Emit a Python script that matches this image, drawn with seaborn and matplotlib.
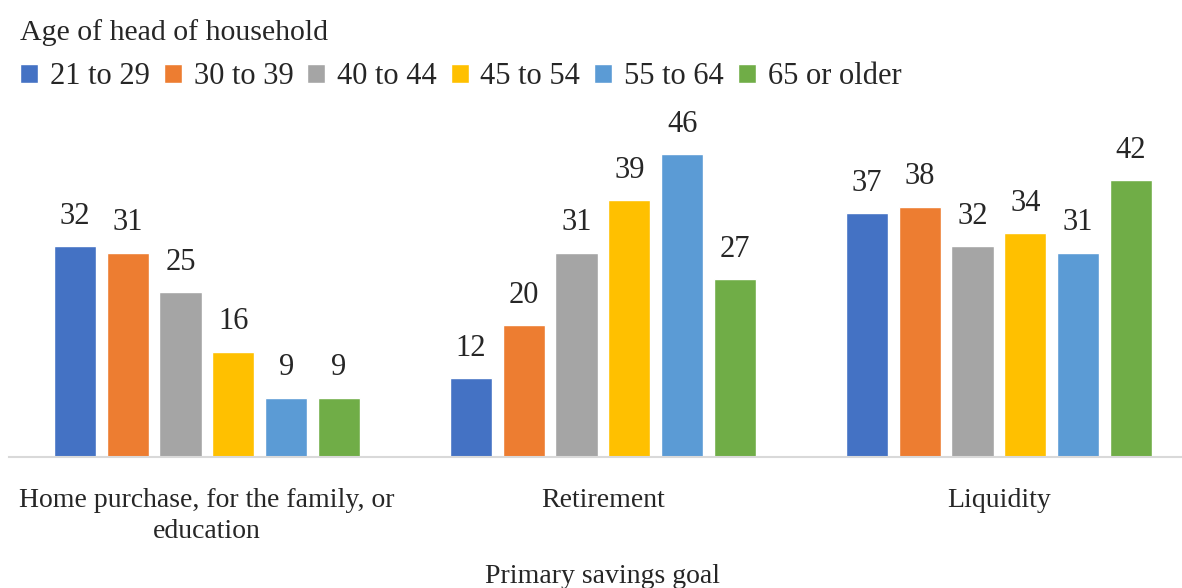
import pandas as pd
import numpy as np
import matplotlib.pyplot as plt
import seaborn as sns

goals = ['Home purchase, for the family, or\neducation', 'Retirement', 'Liquidity']
ages = ['21 to 29', '30 to 39', '40 to 44', '45 to 54', '55 to 64', '65 or older']
home = [32, 31, 25, 16, 9, 9]
retirement = [12, 20, 31, 39, 46, 27]
liquidity = [37, 38, 32, 34, 31, 42]
colors = ['#4472C4', '#ED7D31', '#A5A5A5', '#FFC000', '#5B9BD5', '#70AD47']

df = pd.DataFrame({
	'goal': np.repeat(goals, len(ages)),
	'age': ages * len(goals),
	'value': home + retirement + liquidity,
})

sns.set_style('white')
plt.rcParams['font.family'] = ['Liberation Serif', 'DejaVu Serif']

fig = plt.figure(figsize=(11.82, 5.88), dpi=100)
ax = fig.add_axes([0.0076, 0.2228, 1.005, 0.5379])
sns.barplot(data=df, x='goal', y='value', hue='age', hue_order=ages,
	palette=colors, width=0.8, gap=0.2, ax=ax, saturation=1)

for c in ax.containers:
	ax.bar_label(c, padding=11, fontsize=22)

ax.set_ylim(0, 48)
ax.set_xlim(-0.5, 2.5)
ax.set_yticks([])
ax.set_ylabel('')
ax.set_xlabel('Primary savings goal', fontsize=20, labelpad=14)
ax.tick_params(axis='x', length=0, labelsize=20, pad=22)
for t in ax.get_xticklabels():
	t.set_linespacing(1.35)
for s in ['top', 'right', 'left']:
	ax.spines[s].set_visible(False)
ax.spines['bottom'].set_color('#D9D9D9')
ax.spines['bottom'].set_linewidth(1.5)

handles, labels = ax.get_legend_handles_labels()
ax.legend_.remove()
leg = fig.legend(handles, labels, loc='upper left', bbox_to_anchor=(0.017, 0.968),
	ncol=6, frameon=False, fontsize=22, title='Age of head of household',
	title_fontsize=21.5, alignment='left', handlelength=0.6, handleheight=0.6,
	handletextpad=0.38, columnspacing=0.45, borderaxespad=0, borderpad=0,
	labelspacing=0.3)
leg._legend_box.sep = 12

fig.savefig('out.png', dpi=100)
